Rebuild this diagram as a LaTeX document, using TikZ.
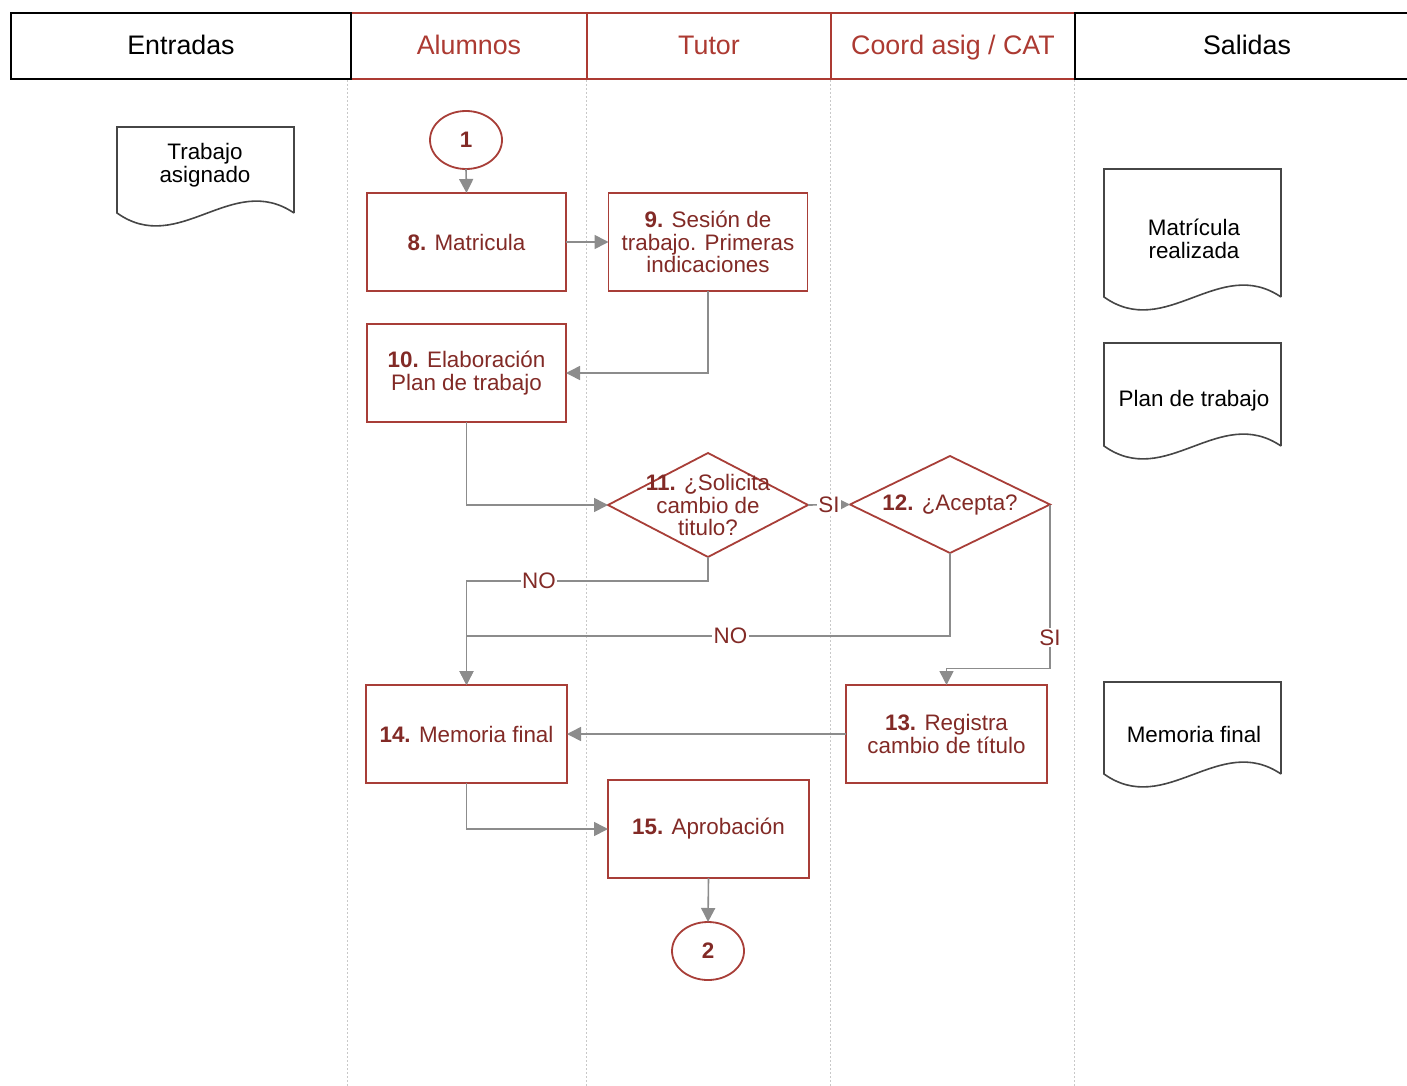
\documentclass[tikz,border=0pt]{standalone}
\usepackage{fontspec}
\setmainfont{Liberation Sans}
\usetikzlibrary{shapes.geometric,arrows.meta}
\definecolor{txtred}{RGB}{130,42,38}
\definecolor{boxred}{RGB}{168,62,56}
\definecolor{hdrred}{RGB}{172,58,50}
\definecolor{conncol}{RGB}{140,140,140}
\definecolor{lanecol}{RGB}{200,200,200}
\definecolor{doccol}{RGB}{70,70,70}
\newcommand{\bodyf}{\fontsize{11.2pt}{11.4pt}\selectfont}
\newcommand{\docshape}[4]{%
  \draw[docline] (#2,#4) -- (#2,#3) -- (#1,#3) -- (#1,#4)
    .. controls ({#1+0.35*(#2-#1)},{#4+44}) and ({#2-0.35*(#2-#1)},{#4-42}) .. (#2,#4);}
\begin{document}
\begin{tikzpicture}[x=0.5pt,y=-0.5pt,
  hdr/.style={draw, line width=1pt, minimum height=33pt, inner sep=0pt,
    text height=10.6pt, text depth=2pt,
    font=\fontsize{13.4pt}{14pt}\selectfont, anchor=north west},
  hdrr/.style={hdr, draw=hdrred, text=hdrred},
  hdrb/.style={hdr, draw=black, text=black},
  proc/.style={draw=boxred, line width=0.9pt, minimum width=99.5pt, minimum height=49pt,
    inner sep=0pt, outer sep=0pt, align=center, text=txtred, font=\bodyf},
  dia/.style={diamond, draw=boxred, line width=0.9pt, minimum width=100pt, minimum height=52pt,
    inner sep=0pt, outer sep=0pt},
  dtext/.style={align=center, text=txtred, font=\bodyf, inner sep=0pt},
  ell/.style={ellipse, draw=boxred, line width=0.9pt, minimum width=36pt, minimum height=29pt,
    inner sep=0pt, outer sep=0pt, text=txtred, font=\bodyf},
  conn/.style={draw=conncol, line width=0.8pt, -{Triangle[length=7pt,width=7pt]}},
  lbl/.style={fill=white, inner sep=0.8pt, text=txtred, font=\bodyf},
  docline/.style={draw=doccol, line width=0.8pt},
  doctext/.style={align=center, text=black, font=\bodyf, inner sep=0pt},
  laneline/.style={draw=lanecol, line width=0.5pt, dash pattern=on 1pt off 1pt}]
\useasboundingbox (0,0) rectangle (1407,1086);
\fill[white] (0,0) rectangle (1407,1086);
% lanes
\foreach \xx in {347,586,830,1074} \draw[laneline] (\xx,80) -- (\xx,1086);
% headers
\node[hdrr, minimum width=118pt] (hAl) at (350,12) {Alumnos};
\node[hdrr, minimum width=122pt] (hTu) at (586,12) {Tutor};
\node[hdrr, minimum width=122pt] (hCo) at (830,12) {Coord asig / CAT};
\node[hdrb, minimum width=170pt] (hEn) at (10,12) {Entradas};
\node[hdrb, minimum width=172pt] (hSa) at (1074,12) {Salidas};
% documents
\docshape{117}{294}{127}{213}
\node[doctext] (dIn) at (205,165) {Trabajo\\asignado};
\docshape{1104}{1281}{169}{297}
\node[doctext] (dOut1) at (1194,239) {Matrícula\\realizada};
\docshape{1104}{1281}{343}{446}
\node[doctext] (dOut2) at (1194,401) {Plan de trabajo};
\docshape{1104}{1281}{682}{774}
\node[doctext] (dOut3) at (1194,734) {Memoria final};
% process nodes
\node[ell] (c1) at (466,140) {\textbf{1}};
\node[proc] (b8) at (466.5,242) {\textbf{8.} Matricula};
\node[proc] (b9) at (708,242) {\textbf{9.} Sesión de\\trabajo. Primeras\\indicaciones};
\node[proc] (b10) at (466.5,373) {\textbf{10.} Elaboración\\Plan de trabajo};
\node[dia] (d11) at (708,505) {};
\node[dtext] (t11) at (708,505) {\textbf{11.} ¿Solicita\\cambio de\\titulo?};
\node[dia, minimum height=48.5pt] (d12) at (950,504.5) {};
\node[dtext] (t12) at (950,505) {\textbf{12.} ¿Acepta?};
\node[proc, minimum width=100.5pt] (b13) at (946.5,734) {\textbf{13.} Registra\\cambio de título};
\node[proc, minimum width=100.5pt] (b14) at (466.5,734) {\textbf{14.} Memoria final};
\node[proc, minimum width=100.5pt] (b15) at (708.5,829) {\textbf{15.} Aprobación};
\node[ell] (c2) at (708,951) {\textbf{2}};
% connectors
\draw[conn] (c1.south) -- (b8.north);
\draw[conn] (b8.east) -- (b9.west);
\draw[conn] (b9.south) |- (b10.east);
\draw[conn] (b10.south) |- (d11.west);
\draw[conn] (d11.east) -- node[lbl]{SI} (d12.west);
\draw[conn] (d11.south) -- ++(0,24) -| node[lbl, pos=0.35]{NO} (b14.north);
\draw[conn] (d12.south) -- ++(0,83) -| node[lbl, pos=0.227]{NO} (b14.north);
\draw[conn] (d12.east) -- node[lbl, pos=0.81]{SI} ++(0,164) -| (b13.north);
\draw[conn] (b13.west) -- (b14.east);
\draw[conn] (b14.south) |- (b15.west);
\draw[conn] (b15.south) -- (c2.north);
\end{tikzpicture}
\end{document}
